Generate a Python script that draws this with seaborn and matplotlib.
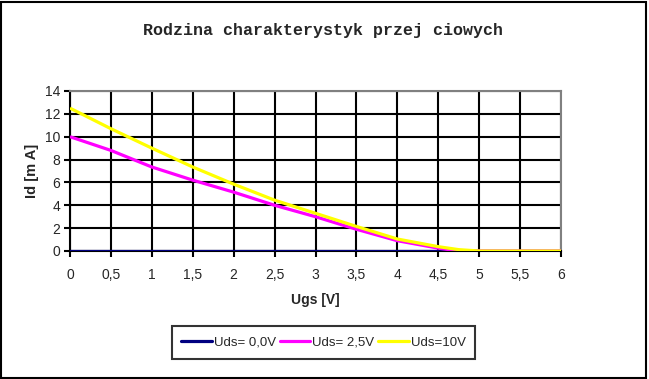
import numpy as np
import pandas as pd
import seaborn as sns
import matplotlib.pyplot as plt
from matplotlib.patches import Rectangle

# values
ugs = [0, 0.5, 1, 1.5, 2, 2.5, 3, 3.5, 4, 4.5, 4.75, 5, 5.5, 6]
id_uds_0 = [0, 0, 0, 0, 0, 0, 0, 0, 0, 0, 0, 0, 0, 0]
id_uds_25 = [10.0, 8.8, 7.35, 6.2, 5.15, 4.0, 3.0, 1.9, 0.9, 0.25, 0, 0, 0, 0]
id_uds_10 = [12.5, 10.7, 9.0, 7.35, 5.85, 4.45, 3.3, 2.15, 1.05, 0.38, 0.12, 0, 0, 0]
series_names = ['Uds= 0,0V', 'Uds= 2,5V', 'Uds=10V']
series_colors = ['#000080', '#ff00ff', '#ffff00']
x_ticks = [0, 0.5, 1, 1.5, 2, 2.5, 3, 3.5, 4, 4.5, 5, 5.5, 6]
x_tick_labels = ['0', '0,5', '1', '1,5', '2', '2,5', '3', '3,5', '4', '4,5',
                 '5', '5,5', '6']
y_ticks = [0, 2, 4, 6, 8, 10, 12, 14]


def build_frame():
    """Long-form table for seaborn."""
    parts = []
    for name, vals in zip(series_names, [id_uds_0, id_uds_25, id_uds_10]):
        parts.append(pd.DataFrame({'Ugs': ugs, 'Id': vals, 'series': name}))
    return pd.concat(parts, ignore_index=True)


def main():
    sns.set_style('white')
    plt.rcParams['font.family'] = ['Liberation Sans', 'DejaVu Sans']

    fig = plt.figure(figsize=(6.49, 3.79), dpi=100)
    ax = fig.add_axes([70 / 649, 128 / 379, 491 / 649, 160 / 379])

    df = build_frame()
    sns.lineplot(data=df, x='Ugs', y='Id', hue='series',
                 hue_order=series_names, palette=series_colors,
                 ax=ax, legend=False, estimator=None, sort=False)
    widths = [1.6, 2.3, 2.3]
    for line, lw in zip(ax.get_lines(), widths):
        line.set_linewidth(lw)
        line.set_solid_capstyle('butt')
        line.set_zorder(3)

    ax.set_xlim(0, 6)
    ax.set_ylim(0, 14)
    ax.set_xticks(x_ticks)
    ax.set_xticklabels(x_tick_labels)
    ax.set_yticks(y_ticks)
    ax.grid(True, color='black', linewidth=1.5)
    ax.set_axisbelow(True)
    ax.tick_params(axis='both', which='major', length=4, width=1.5,
                   direction='out', labelsize=10, color='black',
                   bottom=True, left=True)
    ax.tick_params(axis='x', pad=8.5)
    ax.tick_params(axis='y', pad=3)
    for side in ['left', 'bottom']:
        ax.spines[side].set_color('black')
        ax.spines[side].set_linewidth(1.5)
    for side in ['top', 'right']:
        ax.spines[side].set_color('#808080')
        ax.spines[side].set_linewidth(1.5)

    ax.set_xlabel('Ugs [V]', fontsize=10, fontweight='bold', labelpad=8)
    ax.set_ylabel('Id [m A]', fontsize=10.5, fontweight='bold', labelpad=4)

    fig.text(323 / 649, 1 - 31 / 379, 'Rodzina charakterystyk przej ciowych',
             family='Liberation Mono', fontweight='bold', fontsize=12,
             ha='center', va='center')

    handles = [plt.Line2D([], [], color=c, lw=2.3) for c in series_colors]
    leg = fig.legend(handles, series_names, ncol=3, loc='center',
                     bbox_to_anchor=(323.5 / 649, 1 - 342.5 / 379),
                     fontsize=9.5, frameon=True, fancybox=False,
                     handlelength=2.3, handletextpad=0.15, columnspacing=0.3,
                     borderpad=0.75, borderaxespad=0)
    leg.get_frame().set_edgecolor('black')
    leg.get_frame().set_linewidth(1.5)

    fig.patches.append(Rectangle((0.002, 0.003), 0.994, 0.992,
                                 transform=fig.transFigure, fill=False,
                                 edgecolor='black', linewidth=1.5))

    fig.savefig('out.png', dpi=100)


if __name__ == '__main__':
    main()
